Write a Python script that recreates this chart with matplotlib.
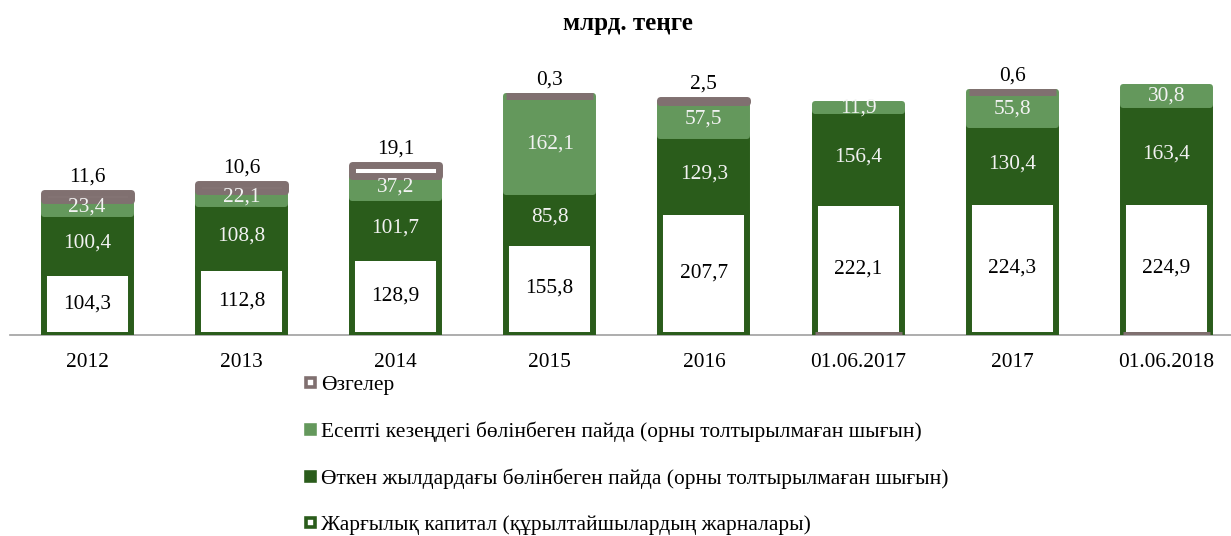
import matplotlib.pyplot as plt
import numpy as np
from matplotlib.patches import Patch

plt.rcParams["font.family"] = ["Liberation Serif", "DejaVu Serif"]

# data (млрд. теңге)
categories = ["2012", "2013", "2014", "2015", "2016", "01.06.2017", "2017", "01.06.2018"]
charter_capital = [104.3, 112.8, 128.9, 155.8, 207.7, 222.1, 224.3, 224.9]
retained_prior = [100.4, 108.8, 101.7, 85.8, 129.3, 156.4, 130.4, 163.4]
retained_current = [23.4, 22.1, 37.2, 162.1, 57.5, 11.9, 55.8, 30.8]
other = [11.6, 10.6, 19.1, 0.3, 2.5, -0.1, 0.6, -0.1]

series_names = [
    "Жарғылық капитал (құрылтайшылардың жарналары)",
    "Өткен жылдардағы бөлінбеген пайда (орны толтырылмаған шығын)",
    "Есепті кезеңдегі бөлінбеген пайда (орны толтырылмаған шығын)",
    "Өзгелер",
]

DARK = "#2a5c1b"
LIGHT = "#64985c"
GREY = "#807070"
FS = 15.4
W, H = 1231, 536


def fmt(v):
    return f"{v:.1f}".replace(".", ",")


fig = plt.figure(figsize=(W / 100, H / 100), dpi=100)
ax_w = W - 10
ax = fig.add_axes([10 / W, (H - 334.5) / H, ax_w / W, 440 * 0.59 / H])

x = np.arange(len(categories))
bw = 0.564

styles = [
    dict(facecolor="white", edgecolor=DARK, linewidth=4.3),
    dict(facecolor=DARK, edgecolor=DARK, linewidth=4.3),
    dict(facecolor=LIGHT, edgecolor=LIGHT, linewidth=4.3),
    dict(facecolor="white", edgecolor=GREY, linewidth=5.0),
]
text_colors = ["black", "#f2f2f2", "#f2f2f2", "black"]

bottom = np.zeros(len(categories))
for i, (vals, name, st, tc) in enumerate(
    zip([charter_capital, retained_prior, retained_current, other], series_names, styles, text_colors)
):
    vals = np.array(vals)
    base = np.where(vals > 0, bottom, 0.0)
    ax.bar(x, vals, bw, bottom=base, joinstyle="round", zorder=3, label=name, **st)
    for xi, b, v in zip(x, base, vals):
        if v <= 0:
            continue
        if i == 3:
            # "others" labels sit above the stack
            ax.annotate(fmt(v), (xi, b + v), xytext=(0, 11.5), textcoords="offset points",
                        ha="center", va="center", fontsize=FS, color="black", zorder=5)
        else:
            ax.text(xi, b + v / 2, fmt(v), ha="center", va="center", fontsize=FS, color=tc, zorder=5)
    bottom = bottom + np.where(vals > 0, vals, 0.0)

ax.set_xlim(-0.5, -0.5 + ax_w / 154.2)
ax.set_ylim(0, 440)
ax.set_xticks(x)
ax.set_xticklabels(categories, fontsize=FS)
ax.tick_params(axis="x", length=0, pad=13.3)
ax.set_yticks([])
for s in ["top", "right", "left"]:
    ax.spines[s].set_visible(False)
ax.spines["bottom"].set_color("#a0a0a0")
ax.spines["bottom"].set_linewidth(1.2)
ax.patch.set_alpha(0)

fig.text(628 / W, 1 - 23.5 / H, "млрд. теңге", ha="center", va="center", fontsize=18, fontweight="bold")

legend_handles = [
    Patch(facecolor="white", edgecolor=GREY, linewidth=2.6),
    Patch(facecolor=LIGHT, edgecolor=LIGHT, linewidth=2.6),
    Patch(facecolor=DARK, edgecolor=DARK, linewidth=2.6),
    Patch(facecolor="white", edgecolor=DARK, linewidth=2.6),
]
fig.legend(
    legend_handles, series_names[::-1],
    loc="upper left", bbox_to_anchor=(306 / W, 1 - 376 / H),
    frameon=False, fontsize=FS, handlelength=0.4, handleheight=0.238,
    handletextpad=0.32, labelspacing=1.24, borderpad=0, borderaxespad=0,
)

fig.savefig("out.png", dpi=100)
